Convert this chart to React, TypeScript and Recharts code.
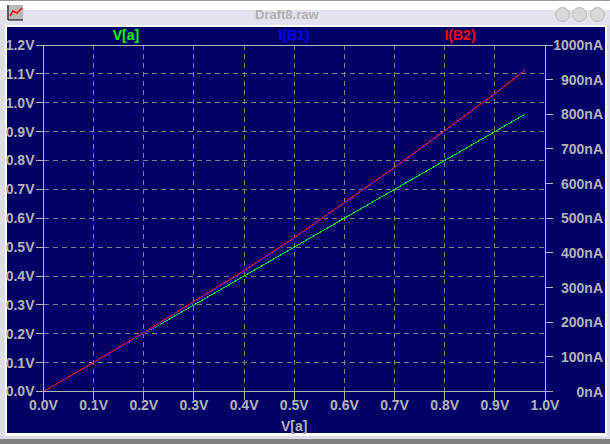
import { LineChart, Line, XAxis, YAxis, CartesianGrid, Legend, ReferenceLine } from 'recharts';

const vSweep = [0, 0.1, 0.2, 0.3, 0.4, 0.5, 0.6, 0.7, 0.8, 0.9, 0.96];
const vA = [0, 0.1, 0.2, 0.3, 0.4, 0.5, 0.6, 0.7, 0.8, 0.9, 0.96];
const iB1 = [0, 83, 167, 256, 346, 441, 543, 646, 751, 859, 926];
const iB2 = [0, 84, 170, 260, 349, 444, 545, 647, 753, 860, 927];

const xTicks = [0, 0.1, 0.2, 0.3, 0.4, 0.5, 0.6, 0.7, 0.8, 0.9, 1];
const voltTicks = [0, 0.1, 0.2, 0.3, 0.4, 0.5, 0.6, 0.7, 0.8, 0.9, 1, 1.1, 1.2];
const currentTicks = [0, 100, 200, 300, 400, 500, 600, 700, 800, 900, 1000];

const data = vSweep.map((x, i) => ({ x, va: vA[i], b1: iB1[i], b2: iB2[i] }));

const NAVY = '#000066';
const GREY = '#b4b4b4';
const FONT = '"Liberation Sans", Arial, sans-serif';

const titleCentres: Record<string, number> = { 'V[a]': 126, 'I(B1)': 294, 'I(B2)': 460 };

const tickStyle = { fill: GREY, fontSize: 14, fontWeight: 700, fontFamily: FONT };

function SeriesTitles({ payload }: any) {
  return (
    <div style={{ position: 'relative', width: 610, height: 18 }}>
      {(payload ?? []).map((p: any) => (
        <span
          key={p.value}
          style={{
            position: 'absolute',
            left: titleCentres[p.value],
            top: 0,
            transform: 'translateX(-50%)',
            color: p.color,
            font: `700 14px ${FONT}`,
            lineHeight: '16px',
          }}
        >
          {p.value}
        </span>
      ))}
    </div>
  );
}

function CurrentTick({ y, payload }: any) {
  return (
    <text x={603} y={y} dy={5} textAnchor="end" {...tickStyle}>
      {payload.value}nA
    </text>
  );
}

function Chrome() {
  return (
    <>
      <div style={{ position: 'absolute', left: 0, top: 0, width: 610, height: 1, background: '#9a9a9a' }} />
      <div style={{ position: 'absolute', left: 0, top: 1, width: 610, height: 9, background: '#fff' }} />
      <div style={{ position: 'absolute', left: 0, top: 10, width: 610, height: 15, background: '#e2e2ec' }} />
      <div style={{ position: 'absolute', left: 0, top: 25, width: 610, height: 414, background: '#dcdce8' }} />
      <div style={{ position: 'absolute', left: 0, top: 439, width: 610, height: 5, background: '#808080' }} />
      <div style={{ position: 'absolute', left: 5, top: 25, width: 602, height: 411, background: '#fff' }} />
      <div style={{ position: 'absolute', left: 7, top: 27, width: 598, height: 406, background: NAVY }} />
      <svg style={{ position: 'absolute', left: 7, top: 5 }} width={17} height={17}>
        <rect width={16} height={15} fill="#b8b8b8" />
        <path d="M1 0V15H16" stroke="#000" fill="none" />
        <path d="M3 11L6 6L10 8L15 3" stroke="#f00" strokeWidth={1.5} fill="none" />
      </svg>
      <div
        style={{
          position: 'absolute',
          left: 255,
          top: 8,
          color: '#b0b0b0',
          font: `700 13px ${FONT}`,
          lineHeight: '14px',
        }}
      >
        Draft8.raw
      </div>
      {[562, 579, 597].map((cx) => (
        <div
          key={cx}
          style={{
            position: 'absolute',
            left: cx - 7,
            top: 7,
            width: 13,
            height: 13,
            borderRadius: '50%',
            background: '#d8d8d8',
            border: '1px solid #b8b8b8',
          }}
        />
      ))}
    </>
  );
}

export default function App() {
  return (
    <div style={{ position: 'absolute', left: 0, top: 0, width: 610, height: 444, overflow: 'hidden' }}>
      <style>{`
        .recharts-cartesian-grid line,
        .recharts-cartesian-axis line,
        .recharts-reference-line line { shape-rendering: crispEdges; }
        .recharts-line-curve { shape-rendering: crispEdges; }
      `}</style>
      <Chrome />
      <div style={{ position: 'absolute', left: 0, top: 0 }}>
        <LineChart width={610} height={444} data={data} margin={{ top: 27, right: 0, bottom: 0, left: 0 }}>
          <CartesianGrid yAxisId="volts" stroke="#808080" strokeDasharray="5 4" syncWithTicks />
          <XAxis
            dataKey="x"
            type="number"
            domain={[0, 1]}
            ticks={xTicks}
            interval={0}
            height={52.5}
            stroke={GREY}
            tick={tickStyle}
            tickSize={8}
            tickMargin={1}
            tickFormatter={(v: number) => `${v.toFixed(1)}V`}
            label={{ value: 'V[a]', position: 'insideBottom', offset: 13, ...tickStyle }}
          />
          <YAxis
            yAxisId="volts"
            type="number"
            domain={[0, 1.2]}
            ticks={voltTicks}
            interval={0}
            width={43.5}
            stroke={GREY}
            tick={tickStyle}
            tickSize={8}
            tickMargin={1}
            tickFormatter={(v: number) => `${v.toFixed(1)}V`}
          />
          <YAxis
            yAxisId="current"
            orientation="right"
            type="number"
            domain={[0, 1000]}
            ticks={currentTicks}
            interval={0}
            width={65}
            stroke={GREY}
            tick={<CurrentTick />}
            tickSize={8}
          />
          <ReferenceLine yAxisId="volts" y={1.2} stroke={GREY} ifOverflow="visible" />
          <Legend
            verticalAlign="top"
            height={18}
            wrapperStyle={{ left: 0, width: 610 }}
            content={<SeriesTitles />}
          />
          <Line yAxisId="volts" dataKey="va" name="V[a]" stroke="#00ff00" dot={false} strokeWidth={1} isAnimationActive={false} />
          <Line yAxisId="current" dataKey="b1" name="I(B1)" stroke="#0000ff" dot={false} strokeWidth={1} isAnimationActive={false} />
          <Line yAxisId="current" dataKey="b2" name="I(B2)" stroke="#ff0000" dot={false} strokeWidth={1} isAnimationActive={false} />
        </LineChart>
      </div>
    </div>
  );
}
